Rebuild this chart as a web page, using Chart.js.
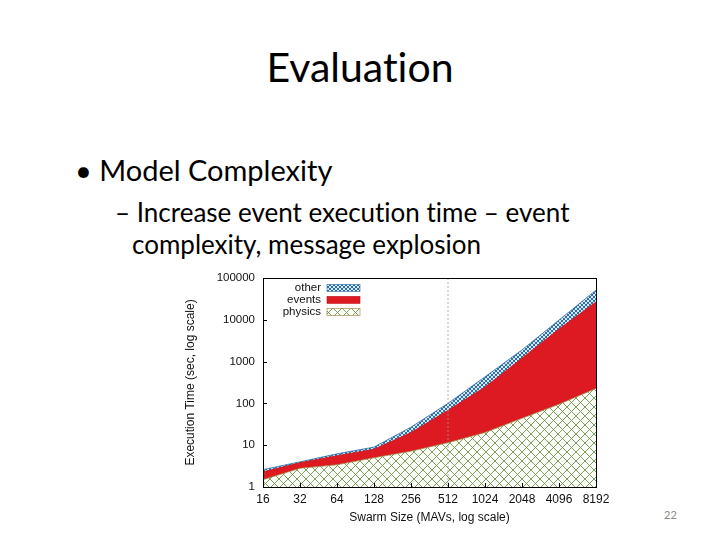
<!DOCTYPE html>
<html><head><meta charset="utf-8">
<script src="https://cdn.jsdelivr.net/npm/chart.js@4"></script>
<style>
body{margin:0;width:720px;height:540px;background:#fff;position:relative;overflow:hidden;font-family:Lato,'Open Sans',sans-serif;font-variant-ligatures:none;}
.t{position:absolute;white-space:nowrap;color:#000;line-height:1}
#title{left:0;width:720px;text-align:center;top:46px;font-size:41px}
#b1{left:75px;top:155px;font-size:29px}
#b2{left:115px;top:199px;font-size:26px}
#b3{left:132px;top:231px;font-size:26px}
#num{left:664px;top:509px;font-size:11px;color:#888}
#cw{position:absolute;left:180px;top:263px;width:440px;height:267px}
</style></head>
<body>
<div class="t" id="title">Evaluation</div>
<div class="t" id="b1">• Model Complexity</div>
<div class="t" id="b2">– Increase event execution time – event</div>
<div class="t" id="b3">complexity, message explosion</div>
<div class="t" id="num">22</div>
<div id="cw"><canvas id="c" width="440" height="267"></canvas></div>
<script>
const swarmSizes = [16, 32, 64, 128, 256, 512, 1024, 2048, 4096, 8192];
const physicsTop = [1.5, 2.8, 3.4, 5, 7.2, 11.5, 20, 44, 95, 228];
const eventsTop  = [2.3, 3.8, 5.6, 8, 20, 68, 245, 1200, 6000, 26500];
const otherTop   = [2.6, 4.0, 6.2, 9, 27, 100, 430, 1900, 9800, 51000];
const yTicks = [1, 10, 100, 1000, 10000, 100000];
const seriesNames = ['physics', 'events', 'other'];

function hatch(bg, fg, size, lw) {
  const c = document.createElement('canvas');
  c.width = size; c.height = size;
  const g = c.getContext('2d');
  g.fillStyle = bg; g.fillRect(0, 0, size, size);
  g.strokeStyle = fg; g.lineWidth = lw;
  g.beginPath();
  g.moveTo(0, 0); g.lineTo(size, size);
  g.moveTo(size, 0); g.lineTo(0, size);
  g.stroke();
  return g.createPattern(c, 'repeat');
}
const ctx0 = document.getElementById('c').getContext('2d');
const greenPat = hatch('#fbfdf8', '#6f9448', 9, 0.9);
const bluePat = hatch('#d6e8f5', '#2f6fa8', 4, 1);
const redCol = '#dd1a22';
const fontFam = '"Liberation Sans", Arial, sans-serif';

const toPts = arr => arr.map((v, i) => ({x: swarmSizes[i], y: v}));

const overlay = {
  id: 'overlay',
  afterDatasetsDraw(chart) {
    const {ctx, chartArea: a, scales: {x, y}} = chart;
    ctx.save();
    const xd = x.getPixelForValue(512);
    ctx.strokeStyle = '#999'; ctx.lineWidth = 0.8; ctx.setLineDash([2, 2]);
    ctx.beginPath(); ctx.moveTo(xd, a.top); ctx.lineTo(xd, a.bottom); ctx.stroke();
    ctx.setLineDash([]);
    ctx.strokeStyle = '#000'; ctx.lineWidth = 1;
    ctx.beginPath();
    swarmSizes.forEach(v => { const px = Math.round(x.getPixelForValue(v)) + 0.5; ctx.moveTo(px, a.bottom); ctx.lineTo(px, a.bottom - 4); });
    yTicks.forEach(v => { const py = Math.round(y.getPixelForValue(v)) + 0.5; ctx.moveTo(a.left, py); ctx.lineTo(a.left + 4, py); });
    ctx.stroke();
    ctx.strokeRect(Math.round(a.left) + 0.5, Math.round(a.top) + 0.5, Math.round(a.right - a.left), Math.round(a.bottom - a.top));
    const ds = chart.data.datasets;
    const order = [2, 1, 0];
    ctx.font = '11.5px ' + fontFam;
    ctx.textAlign = 'right'; ctx.textBaseline = 'middle';
    order.forEach((di, k) => {
      const yy = a.top + 10 + k * 12;
      ctx.fillStyle = '#111';
      ctx.fillText(ds[di].label, a.left + 58, yy);
      ctx.fillStyle = ds[di].backgroundColor;
      ctx.fillRect(a.left + 64, yy - 3.5, 33, 7);
      ctx.strokeStyle = ds[di].borderColor; ctx.lineWidth = 0.6;
      ctx.strokeRect(a.left + 64, yy - 3.5, 33, 7);
    });
    ctx.restore();
  }
};

new Chart(ctx0, {
  type: 'line',
  data: {
    datasets: [
      {label: seriesNames[0], data: toPts(physicsTop), fill: 'start', backgroundColor: greenPat, borderColor: '#a07a3a', borderWidth: 0.8, pointRadius: 0, tension: 0},
      {label: seriesNames[1], data: toPts(eventsTop), fill: '-1', backgroundColor: redCol, borderColor: '#c01018', borderWidth: 0.8, pointRadius: 0, tension: 0},
      {label: seriesNames[2], data: toPts(otherTop), fill: '-1', backgroundColor: bluePat, borderColor: '#2f6fa8', borderWidth: 0.8, pointRadius: 0, tension: 0}
    ]
  },
  options: {
    responsive: false, animation: false,
    layout: {padding: {top: 5, right: 24, left: 0, bottom: 0}},
    plugins: {legend: {display: false}, tooltip: {enabled: false}},
    scales: {
      x: {
        type: 'logarithmic', min: 16, max: 8192,
        afterBuildTicks: s => { s.ticks = swarmSizes.map(v => ({value: v})); },
        afterFit: s => { s.height = 43; },
        grid: {display: false, drawTicks: false}, border: {display: false},
        ticks: {color: '#111', font: {family: fontFam, size: 12}, padding: 5, maxRotation: 0, autoSkip: false, callback: v => String(v)},
        title: {display: true, text: 'Swarm Size (MAVs, log scale)', color: '#111', font: {family: fontFam, size: 12}, padding: {top: 0, bottom: 5}}
      },
      y: {
        type: 'logarithmic', min: 1, max: 100000,
        afterBuildTicks: s => { s.ticks = yTicks.map(v => ({value: v})); },
        afterFit: s => { s.width = 83; },
        grid: {display: false, drawTicks: false}, border: {display: false},
        ticks: {color: '#111', font: {family: fontFam, size: 11.5}, padding: 8, callback: v => String(v)},
        title: {display: true, text: 'Execution Time (sec, log scale)', color: '#111', font: {family: fontFam, size: 12}, padding: {top: 3, bottom: 0}}
      }
    }
  },
  plugins: [overlay]
});
</script>
</body></html>
